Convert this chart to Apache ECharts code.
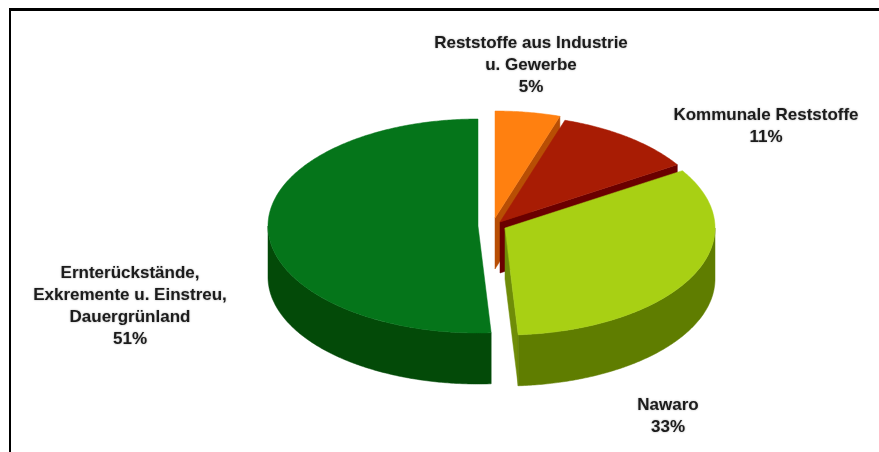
<!DOCTYPE html>
<html>
<head>
<meta charset="utf-8">
<style>html,body{margin:0;padding:0;background:#fff}#c{width:879px;height:452px}</style>
<script src="https://cdn.jsdelivr.net/npm/echarts@6/dist/echarts.min.js"></script>
</head>
<body>
<div id="c"></div>
<script>
// Data, clockwise from 12 o'clock
const categories = [
  'Reststoffe aus Industrie\nu. Gewerbe',
  'Kommunale Reststoffe',
  'Nawaro',
  'Ernterückstände,\nExkremente u. Einstreu,\nDauergrünland'
];
const shares = [5, 11, 33, 51];

// Styling
const topColors  = ['#FF8010', '#A81C04', '#A8D014', '#05751A'];
const wallColors = ['#B84E04', '#6A0000', '#5F7D00', '#034A08'];
const cutColors  = ['#B84E04', '#6A0000', '#6F8C08', '#034A08'];

// Layout
const base = { x: 489, y: 224, rx: 210, ry: 107, depth: 51 };
const explode = [[6, -6], [11, -2], [16, 4], [-11, 2]];
const labelAt = [[531, 65], [766, 126], [668, 416], [130, 306]];

const chart = echarts.init(document.getElementById('c'), null, { renderer: 'canvas' });
const total = shares.reduce((a, b) => a + b, 0);

function renderSlice(params, api) {
  const i = params.dataIndex;
  const from = api.value(1) / total * 2 * Math.PI;
  const to = (api.value(1) + api.value(0)) / total * 2 * Math.PI;
  const cx = base.x + explode[i][0];
  const cy = base.y + explode[i][1];
  const at = (t, d) => [cx + base.rx * Math.sin(t), cy - base.ry * Math.cos(t) + (d || 0)];
  const poly = (points, fill) => ({
    type: 'polygon', shape: { points },
    style: { fill, stroke: fill, lineWidth: 0.5 }
  });
  const arc = (a, b) => {
    const n = Math.max(2, Math.ceil((b - a) / 0.01));
    const out = [];
    for (let k = 0; k <= n; k++) out.push(a + (b - a) * k / n);
    return out;
  };
  const children = [];
  const cut = (t) => poly([[cx, cy], at(t), at(t, base.depth), [cx, cy + base.depth]], cutColors[i]);
  if (from > Math.PI) children.push(cut(from));
  if (to < Math.PI * 2 && to > 0 && to <= Math.PI) children.push(cut(to));
  // outer wall: only the front half of the rim faces the viewer
  const a0 = Math.max(from, Math.PI / 2), a1 = Math.min(to, Math.PI * 3 / 2);
  if (a1 > a0) {
    const ts = arc(a0, a1);
    children.push(poly(
      ts.map(t => at(t)).concat(ts.slice().reverse().map(t => at(t, base.depth))),
      wallColors[i]
    ));
  }
  children.push(poly([[cx, cy]].concat(arc(from, to).map(t => at(t))), topColors[i]));
  children.push({
    type: 'text',
    x: labelAt[i][0], y: labelAt[i][1],
    style: {
      text: categories[i] + '\n' + api.value(0) + '%',
      fill: '#1c1c1c',
      font: 'bold 17px "Liberation Sans", Arial, sans-serif',
      lineHeight: 22,
      align: 'center', verticalAlign: 'middle',
      textShadowColor: 'rgba(0,0,0,0.35)', textShadowBlur: 2
    }
  });
  return { type: 'group', children };
}

let running = 0;
const seriesData = shares.map(v => { const d = [v, running]; running += v; return d; });

chart.setOption({
  animation: false,
  backgroundColor: '#ffffff',
  graphic: [
    { type: 'rect', shape: { x: 9, y: 8, width: 870, height: 3 }, style: { fill: '#000' }, z: 10 },
    { type: 'rect', shape: { x: 9, y: 8, width: 2, height: 444 }, style: { fill: '#000' }, z: 10 }
  ],
  series: [{
    type: 'custom',
    coordinateSystem: 'none',
    silent: true,
    clip: false,
    encode: { value: 0 },
    data: seriesData,
    renderItem: renderSlice
  }]
});
</script>
</body>
</html>
